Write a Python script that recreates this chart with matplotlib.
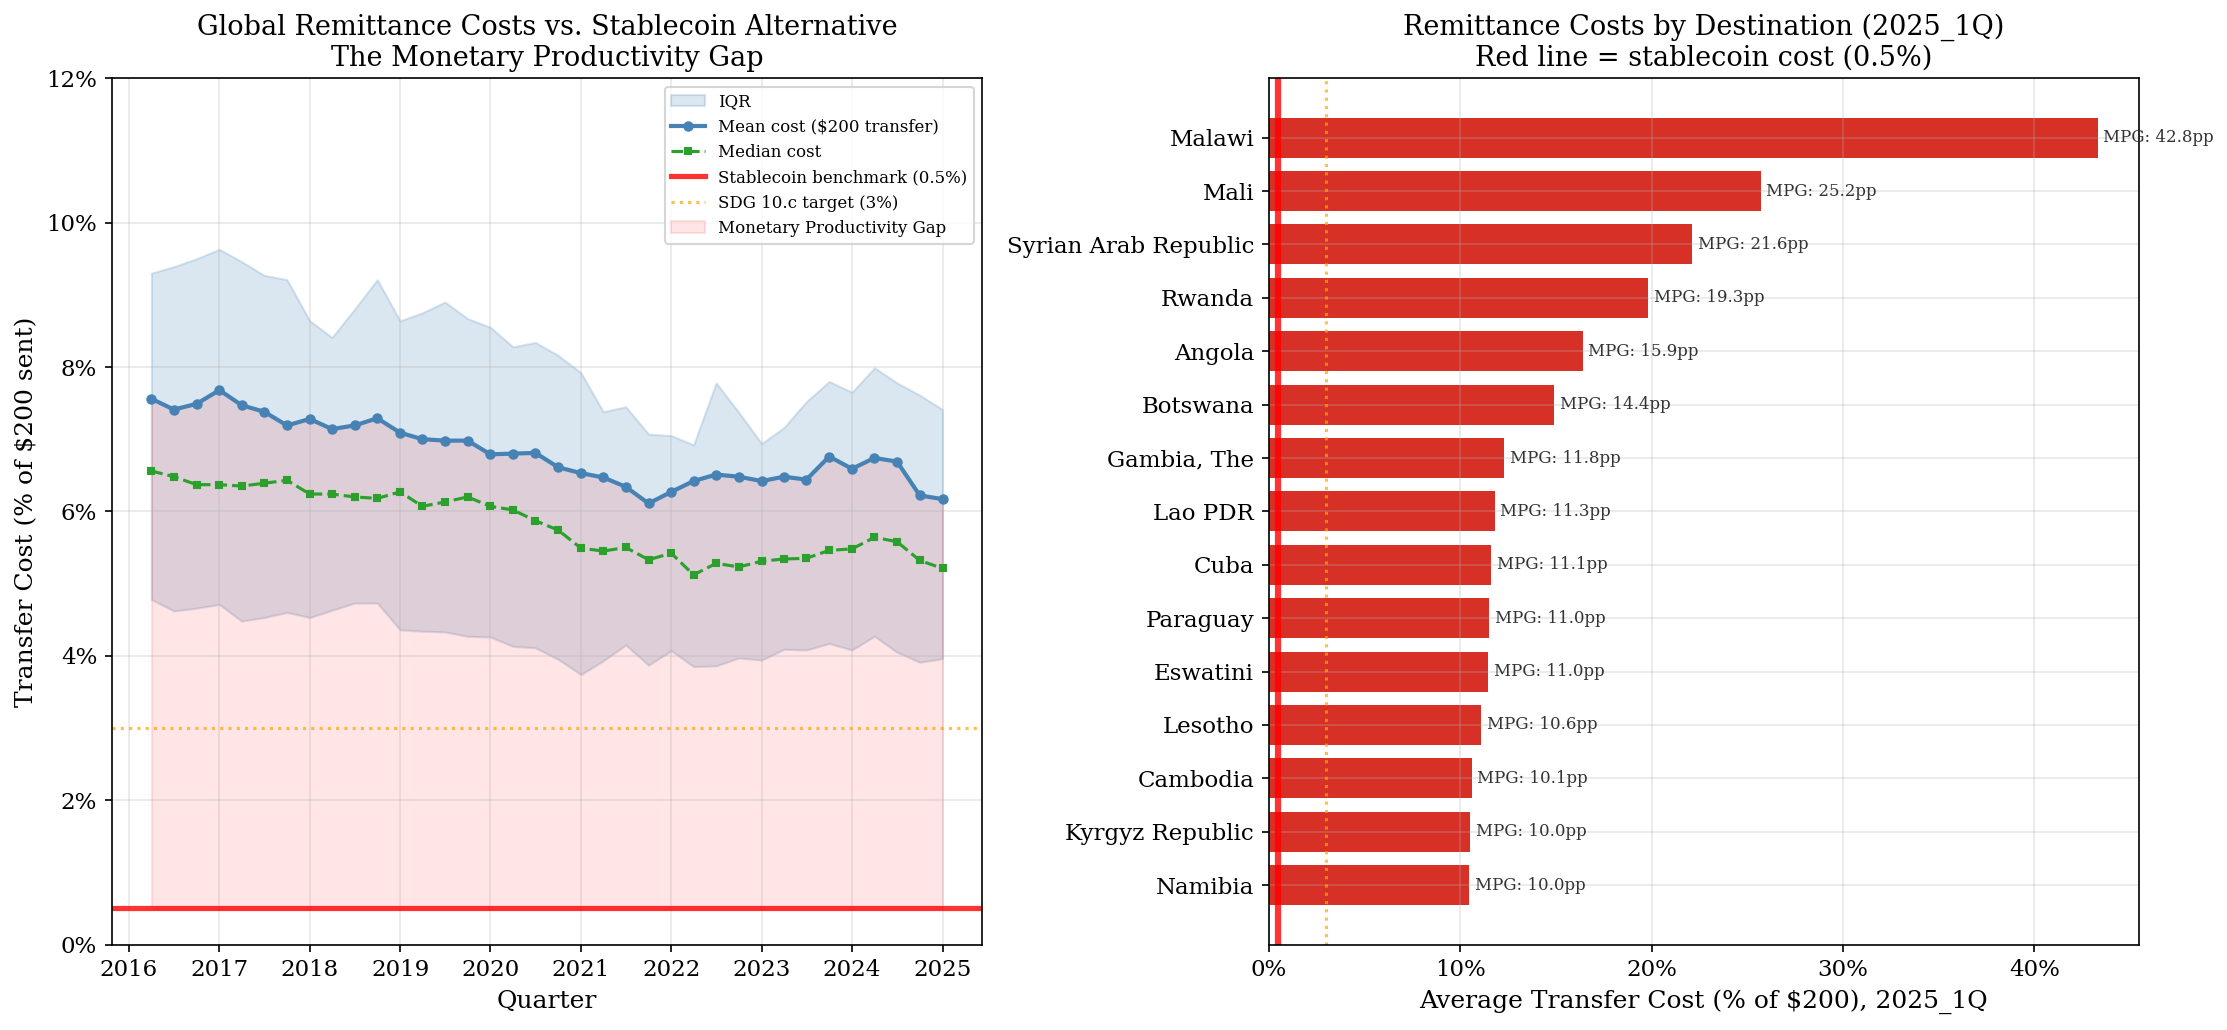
import matplotlib
matplotlib.use("Agg")
import matplotlib.pyplot as plt
import matplotlib.dates as mdates
from matplotlib.ticker import FuncFormatter
import pandas as pd

plt.rcParams['font.family'] = ['DejaVu Serif']

# ---------------- data ----------------
quarter_start = "2016-04-01"
n_quarters = 36

mean_cost = [7.56, 7.41, 7.49, 7.68, 7.47, 7.38, 7.19, 7.28, 7.14, 7.19, 7.29, 7.09,
             7.00, 6.98, 6.98, 6.79, 6.80, 6.81, 6.61, 6.53, 6.47, 6.34, 6.11, 6.27,
             6.42, 6.51, 6.48, 6.42, 6.48, 6.44, 6.76, 6.59, 6.74, 6.69, 6.22, 6.17]
median_cost = [6.56, 6.48, 6.37, 6.37, 6.35, 6.39, 6.43, 6.24, 6.24, 6.20, 6.18, 6.27,
               6.07, 6.13, 6.20, 6.07, 6.02, 5.87, 5.74, 5.49, 5.45, 5.50, 5.33, 5.42,
               5.12, 5.28, 5.23, 5.31, 5.34, 5.35, 5.46, 5.48, 5.64, 5.58, 5.32, 5.21]
q75 = [9.30, 9.39, 9.50, 9.63, 9.46, 9.27, 9.21, 8.64, 8.41, 8.80, 9.21, 8.64,
       8.75, 8.90, 8.67, 8.55, 8.28, 8.34, 8.16, 7.92, 7.38, 7.45, 7.07, 7.05,
       6.92, 7.78, 7.37, 6.94, 7.16, 7.52, 7.80, 7.65, 7.99, 7.78, 7.61, 7.41]
q25 = [4.78, 4.62, 4.66, 4.71, 4.48, 4.53, 4.60, 4.53, 4.63, 4.73, 4.73, 4.36,
       4.34, 4.33, 4.27, 4.26, 4.13, 4.11, 3.95, 3.74, 3.93, 4.15, 3.87, 4.07,
       3.85, 3.86, 3.97, 3.94, 4.09, 4.08, 4.17, 4.08, 4.27, 4.05, 3.91, 3.96]

stablecoin_cost = 0.5
sdg_target = 3.0

countries = ["Malawi", "Mali", "Syrian Arab Republic", "Rwanda", "Angola", "Botswana",
             "Gambia, The", "Lao PDR", "Cuba", "Paraguay", "Eswatini", "Lesotho",
             "Cambodia", "Kyrgyz Republic", "Namibia"]
country_cost = [43.3, 25.7, 22.1, 19.8, 16.4, 14.9, 12.3, 11.8, 11.6, 11.5, 11.47, 11.1,
                10.6, 10.52, 10.48]

dates = pd.date_range(quarter_start, periods=n_quarters, freq="QS")

# ---------------- figure ----------------
fig, (ax1, ax2) = plt.subplots(1, 2, figsize=(14.847, 6.867), dpi=150)
fig.subplots_adjust(left=0.0502, right=0.9605, bottom=0.083, top=0.924, wspace=0.3294)

# Left panel
ax1.fill_between(dates, q25, q75, color="steelblue", alpha=0.2, label="IQR")
ax1.plot(dates, mean_cost, color="steelblue", lw=2, marker="o", markersize=4,
         label="Mean cost ($200 transfer)")
ax1.plot(dates, median_cost, color="#2ca02c", lw=1.5, ls="--", marker="s", markersize=3,
         label="Median cost")
ax1.axhline(stablecoin_cost, color="red", lw=2.5, alpha=0.8,
            label="Stablecoin benchmark (0.5%)")
ax1.axhline(sdg_target, color="orange", lw=1.5, ls=":", alpha=0.7,
            label="SDG 10.c target (3%)")
ax1.fill_between(dates, stablecoin_cost, mean_cost, color="red", alpha=0.1,
                 label="Monetary Productivity Gap")
ax1.set_ylim(0, 12)
ax1.yaxis.set_major_formatter(FuncFormatter(lambda v, p: f"{v:.0f}%"))
ax1.xaxis.set_major_locator(mdates.YearLocator())
ax1.xaxis.set_major_formatter(mdates.DateFormatter("%Y"))
ax1.set_xlabel("Quarter", fontsize=12)
ax1.set_ylabel("Transfer Cost (% of $200 sent)", fontsize=12)
ax1.set_title("Global Remittance Costs vs. Stablecoin Alternative\nThe Monetary Productivity Gap",
              fontsize=13)
ax1.grid(True, alpha=0.3)
ax1.legend(loc="upper right", fontsize=8)
ax1.tick_params(labelsize=11)

# Right panel
ypos = list(range(len(countries)))
ax2.barh(ypos, country_cost, height=0.75, color="#d73027")
ax2.axvline(stablecoin_cost, color="red", lw=3, alpha=0.8)
ax2.axvline(sdg_target, color="orange", lw=1.5, ls=":", alpha=0.7)
for y, c in zip(ypos, country_cost):
    ax2.text(c + 0.3, y, f"MPG: {c - stablecoin_cost:.1f}pp", va="center", ha="left",
             fontsize=8, color="#333333")
ax2.set_yticks(ypos)
ax2.set_yticklabels(countries)
ax2.invert_yaxis()
ax2.xaxis.set_major_formatter(FuncFormatter(lambda v, p: f"{v:.0f}%"))
ax2.set_xlabel("Average Transfer Cost (% of $200), 2025_1Q", fontsize=12)
ax2.set_title("Remittance Costs by Destination (2025_1Q)\nRed line = stablecoin cost (0.5%)",
              fontsize=13)
ax2.grid(True, alpha=0.3)
ax2.tick_params(labelsize=11)

fig.savefig("out.png", dpi=150)
